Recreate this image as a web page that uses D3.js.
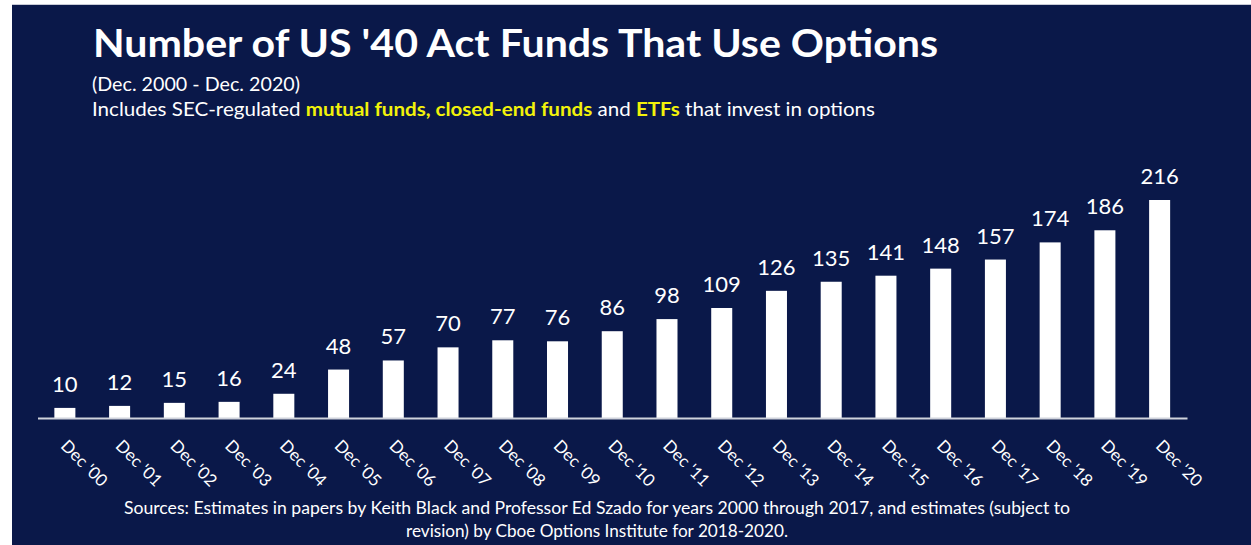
<!DOCTYPE html>
<html>
<head>
<meta charset="utf-8">
<script src="https://cdn.jsdelivr.net/npm/d3@7"></script>
<style>
  html, body { margin: 0; padding: 0; background: #ffffff; }
  svg { display: block; }
  text { font-family: Lato, "Open Sans", sans-serif; }
</style>
</head>
<body>
<svg id="chart" width="1251" height="545"></svg>
<script>
const categories = ["Dec '00","Dec '01","Dec '02","Dec '03","Dec '04","Dec '05","Dec '06","Dec '07","Dec '08","Dec '09","Dec '10","Dec '11","Dec '12","Dec '13","Dec '14","Dec '15","Dec '16","Dec '17","Dec '18","Dec '19","Dec '20"];
const values = [10,12,15,16,24,48,57,70,77,76,86,98,109,126,135,141,148,157,174,186,216];

const titleText = "Number of US '40 Act Funds That Use Options";
const subtitleText = "(Dec. 2000 - Dec. 2020)";
const descParts = [
  {t: "Includes SEC-regulated ", hi: false},
  {t: "mutual funds, closed-end funds", hi: true},
  {t: " and ", hi: false},
  {t: "ETFs", hi: true},
  {t: " that invest in options", hi: false}
];
const sourceLines = [
  "Sources: Estimates in papers by Keith Black and Professor Ed Szado for years 2000 through 2017, and estimates (subject to",
  "revision) by Cboe Options Institute for 2018-2020."
];

const W = 1251, H = 545;
const navy = "#0a1849";
const yellow = "#f2f20a";
const svg = d3.select("#chart");

svg.append("rect").attr("x", 12).attr("y", 5).attr("width", W - 12).attr("height", H - 5).attr("fill", navy);
svg.append("line").attr("x1", 12).attr("x2", W).attr("y1", 4.5).attr("y2", 4.5).attr("stroke", "#c8cbd6").attr("stroke-width", 1);

const x = d3.scaleBand().domain(categories).range([37.5, 1187]).paddingInner(0.616).paddingOuter(0.308);
const y = d3.scaleLinear().domain([0, 216]).range([418, 200]);

// bars
svg.append("g").selectAll("rect").data(values).join("rect")
  .attr("x", (d, i) => x(categories[i]))
  .attr("width", x.bandwidth())
  .attr("y", d => y(d))
  .attr("height", d => y(0) - y(d))
  .attr("fill", "#ffffff");

// axis
const xAxis = d3.axisBottom(x).tickSize(0).tickPadding(0);
const gx = svg.append("g").attr("transform", `translate(0,${y(0)})`).call(xAxis);
gx.select(".domain").attr("stroke", "#d0d3dc").attr("stroke-width", 2);
gx.selectAll(".tick text")
  .attr("fill", "#ffffff")
  .attr("font-size", 17)
  .attr("font-family", "Lato, sans-serif")
  .attr("text-anchor", "start")
  .attr("dy", 0)
  .attr("y", 0)
  .attr("transform", "translate(-5,29) rotate(45)");

// value labels
svg.append("g").selectAll("text").data(values).join("text")
  .attr("x", (d, i) => x(categories[i]) + x.bandwidth() / 2)
  .attr("y", d => y(d) - 16)
  .attr("text-anchor", "middle")
  .attr("fill", "#ffffff")
  .attr("font-size", 22)
  .text(d => d);

// title
svg.append("text").attr("x", 93).attr("y", 57)
  .attr("fill", "#ffffff").attr("font-size", 39).attr("font-weight", 700)
  .attr("textLength", 845).attr("lengthAdjust", "spacingAndGlyphs")
  .text(titleText);

svg.append("text").attr("x", 92).attr("y", 91)
  .attr("fill", "#ffffff").attr("font-size", 19.5)
  .attr("textLength", 208).attr("lengthAdjust", "spacingAndGlyphs")
  .text(subtitleText);

const desc = svg.append("text").attr("x", 92).attr("y", 116)
  .attr("fill", "#ffffff").attr("font-size", 19)
  .attr("textLength", 783).attr("lengthAdjust", "spacingAndGlyphs");
desc.selectAll("tspan").data(descParts).join("tspan")
  .attr("fill", d => d.hi ? yellow : "#ffffff")
  .attr("font-weight", d => d.hi ? 700 : 400)
  .text(d => d.t);

// sources
const srcWidths = [946, 382];
svg.append("g").selectAll("text").data(sourceLines).join("text")
  .attr("x", 597)
  .attr("y", (d, i) => 514 + i * 23)
  .attr("text-anchor", "middle")
  .attr("fill", "#ffffff")
  .attr("font-size", 17)
  .attr("textLength", (d, i) => srcWidths[i])
  .attr("lengthAdjust", "spacingAndGlyphs")
  .text(d => d);
</script>
</body>
</html>
